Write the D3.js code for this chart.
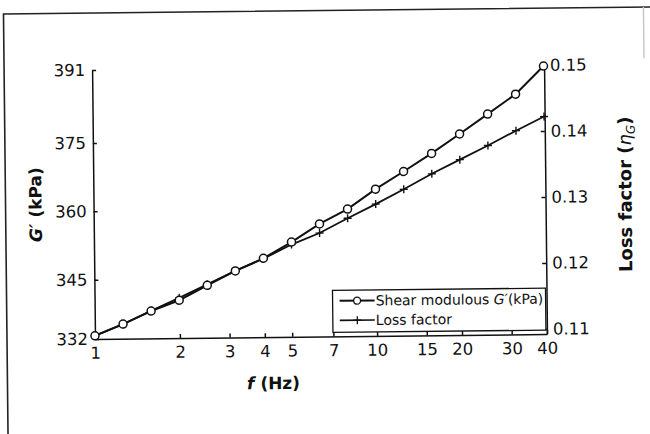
<!DOCTYPE html>
<html>
<head>
<meta charset="utf-8">
<script src="https://cdn.jsdelivr.net/npm/d3@7"></script>
<style>
  html, body { margin: 0; padding: 0; background: #fff; }
  svg { display: block; }
  .tick text { font-family: "DejaVu Sans", sans-serif; font-size: 16.5px; fill: #111; }
  .axis path, .axis line { stroke: #111; stroke-width: 1.5; }
</style>
</head>
<body>
<svg id="chart" width="650" height="434"></svg>
<script>
// Frequency sweep (Hz), 1/10-decade steps
const freq = [1, 1.259, 1.585, 1.995, 2.512, 3.162, 3.981, 5.012, 6.310, 7.943,
              10, 12.59, 15.85, 19.95, 25.12, 31.62, 39.81];
// Storage shear modulus G' (kPa)
const shearModulus = [332.7, 335.2, 338.0, 340.3, 343.5, 346.6, 349.3, 352.8, 356.7,
                      359.9, 364.2, 368.0, 371.9, 376.1, 380.4, 384.7, 390.8];
// Loss factor eta_G
const lossFactor = [0.1097, 0.1114, 0.1134, 0.1153, 0.1173, 0.1193, 0.1211, 0.1232, 0.1249,
                    0.1271, 0.1292, 0.1314, 0.1337, 0.1358, 0.1379, 0.1401, 0.1422];

const xTicks = [1, 2, 3, 4, 5, 7, 10, 15, 20, 30, 40];
const leftTicks = [332, 345, 360, 375, 391];
const rightTicks = [0.11, 0.12, 0.13, 0.14, 0.15];

const svg = d3.select("#chart");
svg.append("rect").attr("width", 650).attr("height", 434).attr("fill", "#fff");

// whole figure sits slightly tilted on the page
const g = svg.append("g").attr("transform", "rotate(-0.62, 95, 339)");

// page frame
g.append("path")
  .attr("d", "M7,460 L7,13 L670,13")
  .attr("fill", "none").attr("stroke", "#222").attr("stroke-width", 1.6);
g.append("line")
  .attr("x1", 647).attr("x2", 647).attr("y1", 13).attr("y2", 64)
  .attr("stroke", "#c8c8c8").attr("stroke-width", 1.5);

const x = d3.scaleLog().domain([1, 40]).range([95, 547]);
const yL = d3.scaleLinear().domain([332, 391]).range([339, 70]);
const yR = d3.scaleLinear().domain([0.1092, 0.15]).range([339, 70]);

g.append("g").attr("class", "axis")
  .attr("transform", "translate(0,339)")
  .call(d3.axisBottom(x).tickValues(xTicks).tickFormat(d3.format("d"))
    .tickSizeInner(-4).tickSizeOuter(0).tickPadding(8));

g.append("g").attr("class", "axis")
  .attr("transform", "translate(95,0)")
  .call(d3.axisLeft(yL).tickValues(leftTicks).tickFormat(d3.format("d"))
    .tickSizeInner(-4).tickSizeOuter(0).tickPadding(7));

g.append("g").attr("class", "axis")
  .attr("transform", "translate(547,0)")
  .call(d3.axisRight(yR).tickValues(rightTicks).tickFormat(d3.format(".2f"))
    .tickSizeInner(-4).tickSizeOuter(0).tickPadding(6));

// loss factor curve with plus markers
const lineR = d3.line().x((d, i) => x(freq[i])).y(d => yR(d));
g.append("path").datum(lossFactor)
  .attr("d", lineR).attr("fill", "none").attr("stroke", "#111").attr("stroke-width", 1.8);
const plus = "M-4,0H4M0,-4V4";
g.selectAll(".lf").data(lossFactor).enter().append("path")
  .attr("class", "lf")
  .attr("transform", (d, i) => `translate(${x(freq[i])},${yR(d)})`)
  .attr("d", plus).attr("stroke", "#111").attr("stroke-width", 1.4);

// shear modulus curve with open circles
const lineL = d3.line().x((d, i) => x(freq[i])).y(d => yL(d));
g.append("path").datum(shearModulus)
  .attr("d", lineL).attr("fill", "none").attr("stroke", "#111").attr("stroke-width", 2);
g.selectAll(".gm").data(shearModulus).enter().append("circle")
  .attr("class", "gm")
  .attr("cx", (d, i) => x(freq[i])).attr("cy", d => yL(d)).attr("r", 4)
  .attr("fill", "#fff").attr("stroke", "#111").attr("stroke-width", 1.5);

// legend
const lg = g.append("g").attr("font-family", "DejaVu Sans, sans-serif").attr("font-size", 14).attr("fill", "#111");
lg.append("rect").attr("x", 333).attr("y", 293).attr("width", 213).attr("height", 42)
  .attr("fill", "#fff").attr("stroke", "#111").attr("stroke-width", 1.3);
lg.append("line").attr("x1", 340).attr("x2", 375).attr("y1", 303.5).attr("y2", 303.5)
  .attr("stroke", "#111").attr("stroke-width", 2);
lg.append("circle").attr("cx", 357.5).attr("cy", 303.5).attr("r", 3.5)
  .attr("fill", "#fff").attr("stroke", "#111").attr("stroke-width", 1.4);
const t1 = lg.append("text").attr("x", 376).attr("y", 308.5);
t1.append("tspan").text("Shear modulous ");
t1.append("tspan").attr("font-style", "italic").text("G′");
t1.append("tspan").text("(kPa)");
lg.append("line").attr("x1", 340).attr("x2", 375).attr("y1", 323).attr("y2", 323)
  .attr("stroke", "#111").attr("stroke-width", 1.6);
lg.append("path").attr("transform", "translate(357.5,323)").attr("d", plus)
  .attr("stroke", "#111").attr("stroke-width", 1.3);
lg.append("text").attr("x", 376).attr("y", 328).text("Loss factor");

// axis titles
const title = { "font-family": "DejaVu Sans, sans-serif", "font-size": 17, "font-weight": "bold", "fill": "#111" };
const tl = g.append("text").attr("transform", "translate(43,204) rotate(-90)").attr("text-anchor", "middle");
Object.entries(title).forEach(([k, v]) => tl.attr(k, v));
tl.append("tspan").attr("font-style", "italic").text("G′");
tl.append("tspan").text(" (kPa)");

const tb = g.append("text").attr("transform", "translate(273,391)").attr("text-anchor", "middle");
Object.entries(title).forEach(([k, v]) => tb.attr(k, v));
tb.append("tspan").attr("font-style", "italic").text("f");
tb.append("tspan").text(" (Hz)");

const tr = g.append("text").attr("transform", "translate(633,200) rotate(-90)").attr("text-anchor", "middle");
Object.entries(title).forEach(([k, v]) => tr.attr(k, v));
tr.attr("font-size", 18);
tr.append("tspan").text("Loss factor (");
tr.append("tspan").attr("font-style", "italic").attr("font-weight", "normal").text("η");
tr.append("tspan").attr("font-style", "italic").attr("font-weight", "normal").attr("font-size", 12).attr("dy", 4).text("G");
tr.append("tspan").attr("dy", -4).text(")");
</script>
</body>
</html>
